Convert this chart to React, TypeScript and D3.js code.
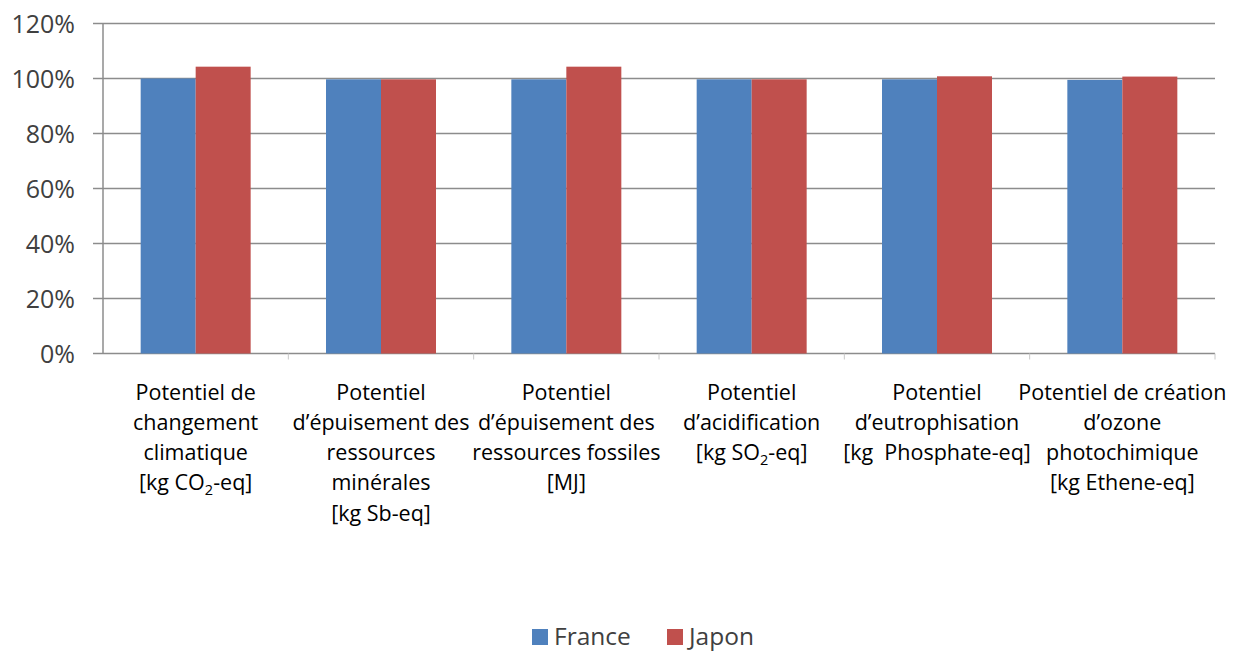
import * as d3 from "d3";

const categoryLines: string[][] = [
  ["Potentiel de", "changement", "climatique", "[kg CO_2-eq]"],
  ["Potentiel", "d’épuisement des", "ressources", "minérales", "[kg Sb-eq]"],
  ["Potentiel", "d’épuisement des", "ressources fossiles", "[MJ]"],
  ["Potentiel", "d’acidification", "[kg SO_2-eq]"],
  ["Potentiel", "d’eutrophisation", "[kg  Phosphate-eq]"],
  ["Potentiel de création", "d’ozone", "photochimique", "[kg Ethene-eq]"],
];
const categories = categoryLines.map((l) => l.join(" "));

const seriesNames = ["France", "Japon"];
const franceValues = [100, 99.7, 99.7, 99.7, 99.7, 99.5];
const japonValues = [104.3, 99.7, 104.3, 99.7, 100.8, 100.7];
const seriesValues = [franceValues, japonValues];
const seriesColors = ["#4F81BD", "#C0504D"];

const yTicks = [0, 20, 40, 60, 80, 100, 120];

const W = 1258;
const H = 653;
const FONT = "'Open Sans', 'Liberation Sans', sans-serif";

// render "CO_2" as CO with subscript 2
function LabelLine({ text, x, y }: { text: string; x: number; y: number }) {
  const parts = text.split(/_(\d)/);
  return (
    <text x={x} y={y} textAnchor="middle" fontFamily={FONT} fontSize={21.5} fill="#000" xmlSpace="preserve">
      {parts.map((p, i) =>
        i % 2 === 1 ? (
          <tspan key={i} fontSize={14.5} dy={5}>
            {p}
          </tspan>
        ) : (
          <tspan key={i} dy={i > 0 ? -5 : 0}>
            {p}
          </tspan>
        )
      )}
    </text>
  );
}

export default function App() {
  const left = 103;
  const right = 1215;
  const top = 23.5;
  const bottom = 353.5;

  const x0 = d3.scaleBand<string>().domain(categories).range([left, right]).paddingInner(0).paddingOuter(0);
  const x1 = d3
    .scaleBand<string>()
    .domain(seriesNames)
    .range([0, x0.bandwidth()])
    .paddingInner(0)
    .paddingOuter(0.685);
  const y = d3.scaleLinear().domain([0, 120]).range([bottom, top]);

  const gridColor = "#8c8c8c";

  return (
    <svg
      width={W}
      height={H}
      viewBox={`0 0 ${W} ${H}`}
      style={{ position: "absolute", left: 0, top: 0, display: "block", background: "#fff" }}
    >
      {/* gridlines */}
      {yTicks.map((t) => (
        <line key={t} x1={left} x2={right} y1={y(t)} y2={y(t)} stroke={gridColor} strokeWidth={1.5} />
      ))}

      {/* bars */}
      {categories.map((c, ci) => (
        <g key={c} transform={`translate(${x0(c)},0)`}>
          {seriesNames.map((s, si) => (
            <rect
              key={s}
              x={x1(s)}
              y={y(seriesValues[si][ci])}
              width={x1.bandwidth()}
              height={y(0) - y(seriesValues[si][ci])}
              fill={seriesColors[si]}
            />
          ))}
        </g>
      ))}

      {/* y axis */}
      <line x1={left} x2={left} y1={top} y2={bottom} stroke={gridColor} strokeWidth={1.5} />
      {yTicks.map((t) => (
        <g key={t}>
          <line x1={left - 10} x2={left} y1={y(t)} y2={y(t)} stroke={gridColor} strokeWidth={1.5} />
          <text
            x={75}
            y={y(t)}
            dy="0.36em"
            textAnchor="end"
            fontFamily={FONT}
            fontSize={25}
            fill="#404040"
          >
            {t}%
          </text>
        </g>
      ))}

      {/* x axis category ticks */}
      {categories.map((c) => (
        <line
          key={c}
          x1={(x0(c) as number) + x0.bandwidth()}
          x2={(x0(c) as number) + x0.bandwidth()}
          y1={bottom}
          y2={bottom + 6}
          stroke="#c8c8c8"
          strokeWidth={1}
        />
      ))}

      {/* category labels */}
      {categoryLines.map((lines, ci) => {
        const cx = (x0(categories[ci]) as number) + x0.bandwidth() / 2;
        return (
          <g key={ci}>
            {lines.map((l, li) => (
              <LabelLine key={li} text={l} x={cx} y={bottom + 46 + li * 30.3} />
            ))}
          </g>
        );
      })}

      {/* legend */}
      {seriesNames.map((s, si) => {
        const lx = [532, 667][si];
        return (
          <g key={s}>
            <rect x={lx} y={629} width={16} height={16} fill={seriesColors[si]} />
            <text x={lx + 22} y={645} fontFamily={FONT} fontSize={24.5} fill="#404040">
              {s}
            </text>
          </g>
        );
      })}
    </svg>
  );
}
